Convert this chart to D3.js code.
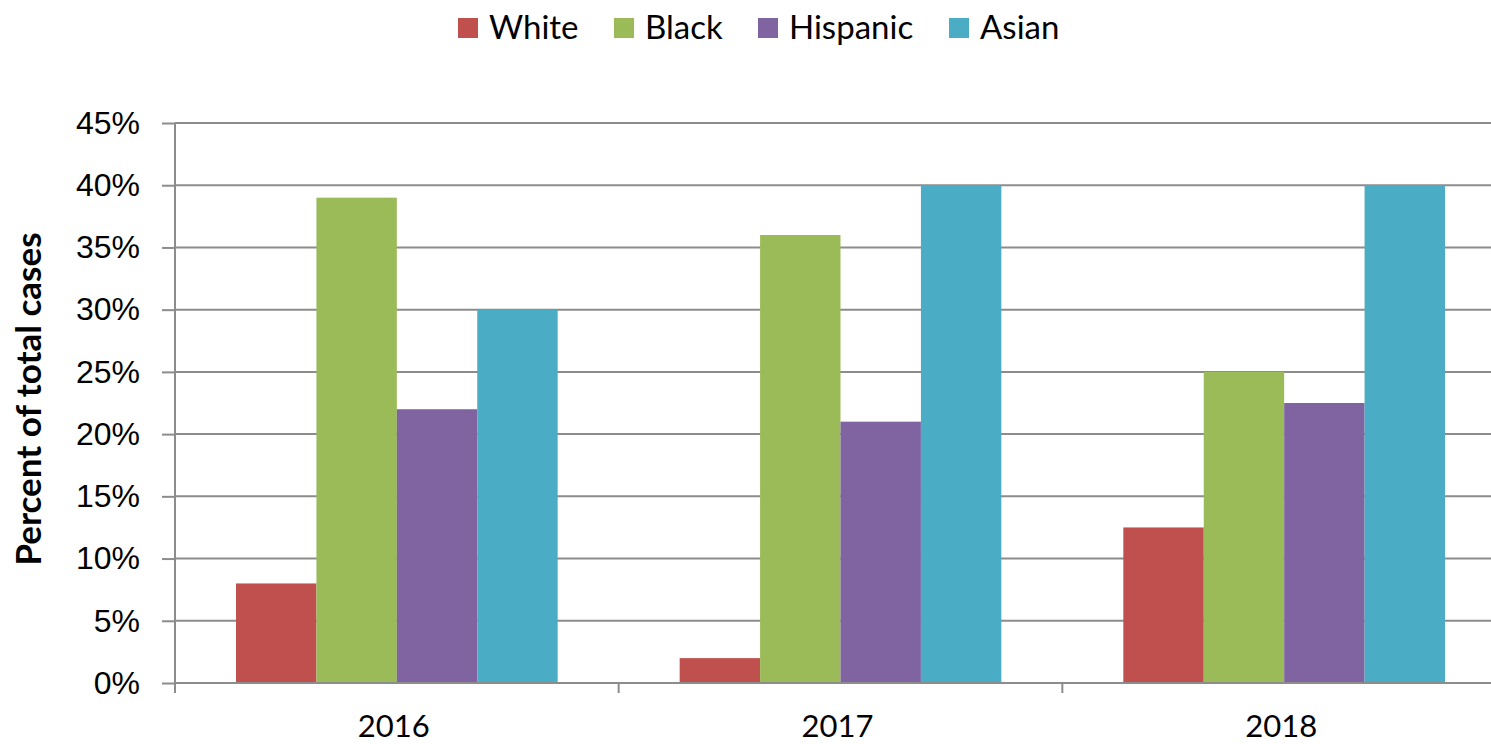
<!DOCTYPE html>
<html>
<head>
<meta charset="utf-8">
<script src="https://cdn.jsdelivr.net/npm/d3@7"></script>
<style>
  body { margin: 0; background: #fff; }
  svg { display: block; font-family: Lato, "Open Sans", sans-serif; }
  .axis path, .axis line { stroke: #8c8c8c; stroke-width: 2px; }
  .axis text { fill: #000; font-size: 32px; }
  .grid line { stroke: #8c8c8c; stroke-width: 2px; }
</style>
</head>
<body>
<svg id="chart"></svg>
<script>
// Data
const years = ['2016', '2017', '2018'];
const groups = ['White', 'Black', 'Hispanic', 'Asian'];
const colors = ['#C0504D', '#9BBB59', '#8064A2', '#4BACC6'];
const white = [8, 2, 12.5];
const black = [39, 36, 25];
const hispanic = [22, 21, 22.5];
const asian = [30, 40, 40];
const yTicks = [0, 5, 10, 15, 20, 25, 30, 35, 40, 45];

const seriesValues = [white, black, hispanic, asian];

const width = 1491, height = 744;
const margin = { top: 123, left: 175, bottom: 61 };
const plotRight = 1506; // the plot area runs a little past the picture edge

const svg = d3.select('#chart')
  .attr('width', width)
  .attr('height', height);

// Scales
const xScale = d3.scaleBand()
  .domain(years)
  .range([margin.left, plotRight])
  .paddingInner(0)
  .paddingOuter(0);

const groupPad = 61;
const xInner = d3.scaleBand()
  .domain(groups)
  .range([groupPad, xScale.bandwidth() - groupPad])
  .padding(0);

const yScale = d3.scaleLinear()
  .domain([0, 45])
  .range([height - margin.bottom, margin.top]);

const colorScale = d3.scaleOrdinal()
  .domain(groups)
  .range(colors);

// Horizontal gridlines
svg.append('g')
  .attr('class', 'grid')
  .selectAll('line')
  .data(yTicks.filter(d => d > 0))
  .join('line')
  .attr('x1', margin.left)
  .attr('x2', plotRight)
  .attr('y1', d => yScale(d))
  .attr('y2', d => yScale(d));

// Bars
const table = years.map((y, i) => ({
  year: y,
  values: groups.map((g, j) => ({ group: g, value: seriesValues[j][i] }))
}));

svg.append('g')
  .selectAll('g')
  .data(table)
  .join('g')
  .attr('transform', d => `translate(${xScale(d.year)},0)`)
  .selectAll('rect')
  .data(d => d.values)
  .join('rect')
  .attr('x', d => xInner(d.group))
  .attr('width', xInner.bandwidth())
  .attr('y', d => yScale(d.value))
  .attr('height', d => yScale(0) - yScale(d.value))
  .attr('fill', d => colorScale(d.group));

// Y axis
const yAxis = d3.axisLeft(yScale)
  .tickValues(yTicks)
  .tickFormat(d => d + '%')
  .tickSizeInner(13)
  .tickSizeOuter(0)
  .tickPadding(22);

svg.append('g')
  .attr('class', 'axis y-axis')
  .attr('transform', `translate(${margin.left},0)`)
  .call(yAxis)
  .call(g => g.select('.domain').attr('d', `M0,${yScale(45)}V${yScale(0) + 10}`));

// X axis: ticks at category boundaries
const xAxisG = svg.append('g')
  .attr('class', 'axis x-axis')
  .attr('transform', `translate(0,${yScale(0)})`);

xAxisG.append('line')
  .attr('x1', margin.left)
  .attr('x2', plotRight);

xAxisG.selectAll('.xtick')
  .data(years.slice(1))
  .join('line')
  .attr('class', 'xtick')
  .attr('x1', d => xScale(d))
  .attr('x2', d => xScale(d))
  .attr('y1', 0)
  .attr('y2', 10);

xAxisG.selectAll('.xlabel')
  .data(years)
  .join('text')
  .attr('class', 'xlabel')
  .attr('x', d => xScale(d) + xScale.bandwidth() / 2 - 3)
  .attr('y', 54)
  .attr('text-anchor', 'middle')
  .style('font-size', '31px')
  .text(d => d);

// Y axis title
svg.append('text')
  .attr('transform', `translate(41,399) rotate(-90)`)
  .attr('text-anchor', 'middle')
  .style('font-size', '35px')
  .style('font-weight', 'bold')
  .text('Percent of total cases');

// Legend
const legendX = [458, 614, 758, 949];
const legend = svg.append('g')
  .attr('class', 'legend')
  .selectAll('g')
  .data(groups)
  .join('g')
  .attr('transform', (d, i) => `translate(${legendX[i]},0)`);

legend.append('rect')
  .attr('x', 0)
  .attr('y', 18)
  .attr('width', 20)
  .attr('height', 20)
  .attr('fill', d => colorScale(d));

legend.append('text')
  .attr('x', 31)
  .attr('y', 39)
  .style('font-size', '33px')
  .text(d => d);
</script>
</body>
</html>
